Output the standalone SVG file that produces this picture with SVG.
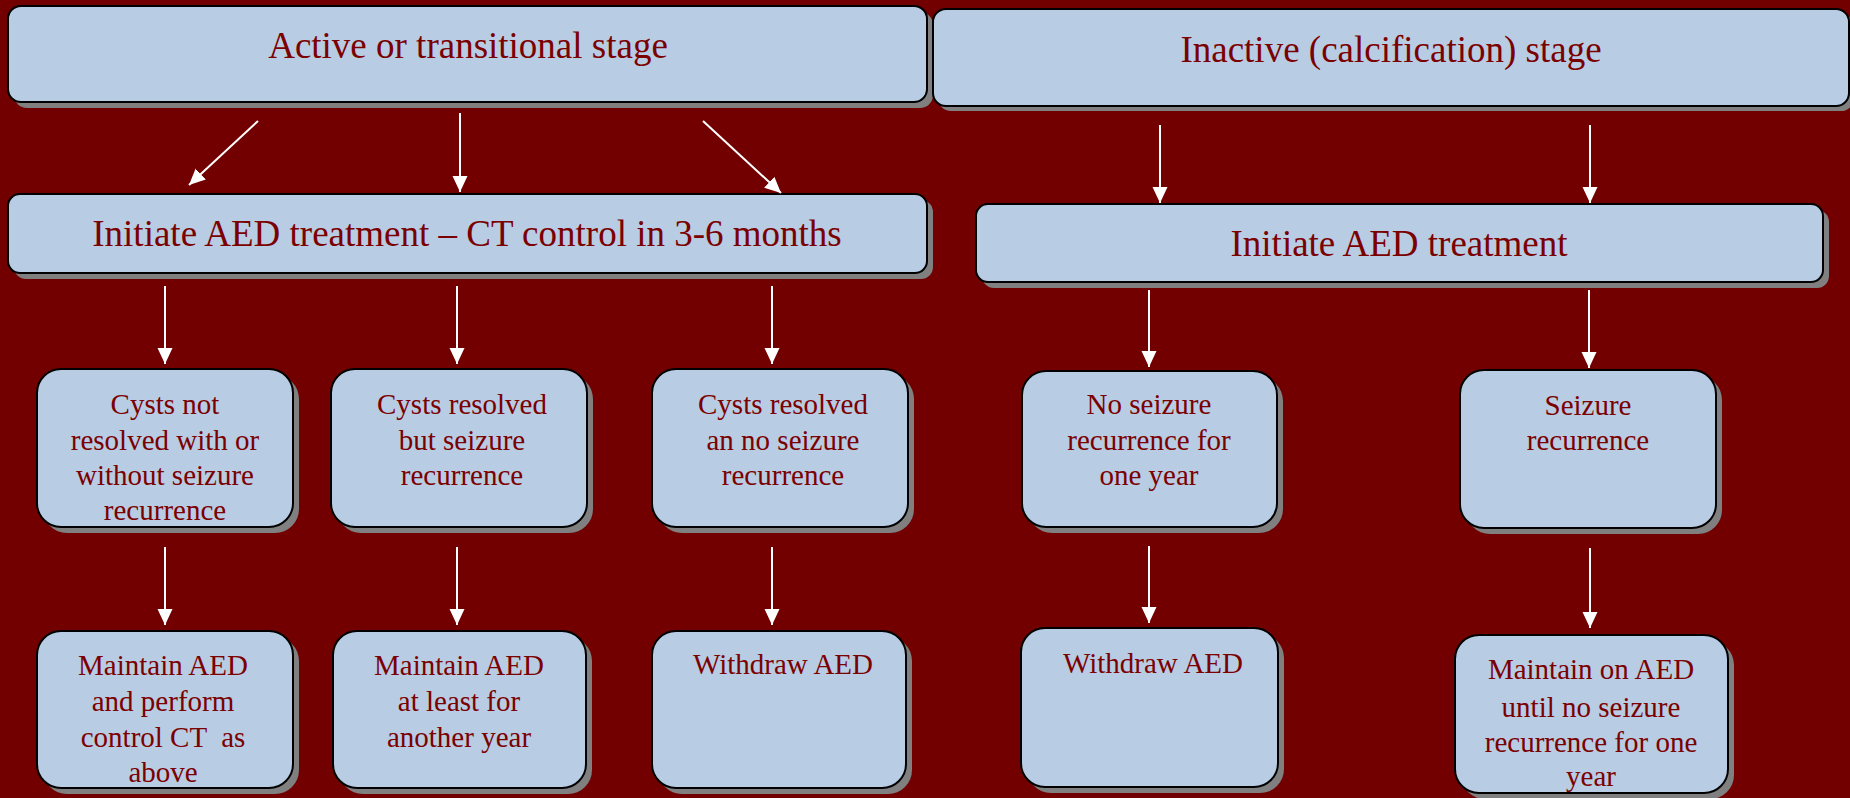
<svg xmlns="http://www.w3.org/2000/svg" width="1850" height="798" viewBox="0 0 1850 798">
  <style>
    .shadow { fill: #808080; }
    .box { fill: #b8cce4; stroke: #000; stroke-width: 2; }
    .label { font-family: "Liberation Serif", "Times New Roman", serif; fill: #7b0000; text-anchor: middle; }
    .big { font-size: 37px; }
    .small { font-size: 29px; }
    .conn { stroke: #fff; stroke-width: 2; fill: none; marker-end: url(#head); }
  </style>
  <defs>
    <marker id="head" markerUnits="userSpaceOnUse" markerWidth="18" markerHeight="16" refX="16" refY="7.5" orient="auto">
      <path d="M0,0 L16,7.5 L0,15 Z" fill="#fff"/>
    </marker>
  </defs>

  <!-- background -->
  <rect x="0" y="0" width="1850" height="798" fill="#720000"/>

  <!-- top-level stages -->
  <g id="active-stage">
    <rect class="shadow" x="14" y="12" width="919" height="96" rx="13"/>
    <rect class="box" x="8" y="6" width="919" height="96" rx="13"/>
    <text class="label big" x="468" y="58">Active or transitional stage</text>
  </g>
  <g id="inactive-stage">
    <rect class="shadow" x="938" y="14" width="916" height="97" rx="13"/>
    <rect class="box" x="933" y="9" width="916" height="97" rx="13"/>
    <text class="label big" x="1391" y="62">Inactive (calcification) stage</text>
  </g>

  <!-- treatment initiation -->
  <g id="initiate-ct">
    <rect class="shadow" x="14" y="200" width="919" height="79" rx="12"/>
    <rect class="box" x="8" y="194" width="919" height="79" rx="12"/>
    <text class="label big" x="467" y="246">Initiate AED treatment – CT control in 3-6 months</text>
  </g>
  <g id="initiate-aed">
    <rect class="shadow" x="982" y="210" width="847" height="78" rx="12"/>
    <rect class="box" x="976" y="204" width="847" height="78" rx="12"/>
    <text class="label big" x="1399" y="256">Initiate AED treatment</text>
  </g>

  <!-- outcomes -->
  <g id="cysts-not-resolved">
    <rect class="shadow" x="43" y="375" width="256" height="158" rx="24"/>
    <rect class="box" x="37" y="369" width="256" height="158" rx="24"/>
    <text class="label small" x="165" y="414">Cysts not</text>
    <text class="label small" x="165" y="450">resolved with or</text>
    <text class="label small" x="165" y="485">without seizure</text>
    <text class="label small" x="165" y="520">recurrence</text>
  </g>
  <g id="resolved-recurrence">
    <rect class="shadow" x="337" y="375" width="256" height="158" rx="24"/>
    <rect class="box" x="331" y="369" width="256" height="158" rx="24"/>
    <text class="label small" x="462" y="414">Cysts resolved</text>
    <text class="label small" x="462" y="450">but seizure</text>
    <text class="label small" x="462" y="485">recurrence</text>
  </g>
  <g id="resolved-no-recurrence">
    <rect class="shadow" x="658" y="375" width="256" height="158" rx="24"/>
    <rect class="box" x="652" y="369" width="256" height="158" rx="24"/>
    <text class="label small" x="783" y="414">Cysts resolved</text>
    <text class="label small" x="783" y="450">an no seizure</text>
    <text class="label small" x="783" y="485">recurrence</text>
  </g>
  <g id="no-seizure-year">
    <rect class="shadow" x="1028" y="377" width="255" height="156" rx="24"/>
    <rect class="box" x="1022" y="371" width="255" height="156" rx="24"/>
    <text class="label small" x="1149" y="414">No seizure</text>
    <text class="label small" x="1149" y="450">recurrence for</text>
    <text class="label small" x="1149" y="485">one year</text>
  </g>
  <g id="seizure-recurrence">
    <rect class="shadow" x="1466" y="376" width="256" height="158" rx="24"/>
    <rect class="box" x="1460" y="370" width="256" height="158" rx="24"/>
    <text class="label small" x="1588" y="415">Seizure</text>
    <text class="label small" x="1588" y="450">recurrence</text>
  </g>

  <!-- actions -->
  <g id="maintain-control-ct">
    <rect class="shadow" x="43" y="637" width="256" height="157" rx="24"/>
    <rect class="box" x="37" y="631" width="256" height="157" rx="24"/>
    <text class="label small" x="163" y="675">Maintain AED</text>
    <text class="label small" x="163" y="711">and perform</text>
    <text class="label small" x="163" y="747" xml:space="preserve">control CT  as</text>
    <text class="label small" x="163" y="782">above</text>
  </g>
  <g id="maintain-another-year">
    <rect class="shadow" x="339" y="637" width="253" height="157" rx="24"/>
    <rect class="box" x="333" y="631" width="253" height="157" rx="24"/>
    <text class="label small" x="459" y="675">Maintain AED</text>
    <text class="label small" x="459" y="711">at least for</text>
    <text class="label small" x="459" y="747">another year</text>
  </g>
  <g id="withdraw-active">
    <rect class="shadow" x="658" y="637" width="254" height="157" rx="24"/>
    <rect class="box" x="652" y="631" width="254" height="157" rx="24"/>
    <text class="label small" x="783" y="674">Withdraw AED</text>
  </g>
  <g id="withdraw-inactive">
    <rect class="shadow" x="1027" y="634" width="257" height="159" rx="24"/>
    <rect class="box" x="1021" y="628" width="257" height="159" rx="24"/>
    <text class="label small" x="1153" y="673">Withdraw AED</text>
  </g>
  <g id="maintain-until-free">
    <rect class="shadow" x="1461" y="641" width="273" height="158" rx="24"/>
    <rect class="box" x="1455" y="635" width="273" height="158" rx="24"/>
    <text class="label small" x="1591" y="679">Maintain on AED</text>
    <text class="label small" x="1591" y="717">until no seizure</text>
    <text class="label small" x="1591" y="752">recurrence for one</text>
    <text class="label small" x="1591" y="786">year</text>
  </g>

  <!-- connectors -->
  <g id="connectors">
    <line class="conn" x1="258" y1="121" x2="189" y2="185"/>
    <line class="conn" x1="460" y1="113" x2="460" y2="192"/>
    <line class="conn" x1="703" y1="121" x2="781" y2="193"/>
    <line class="conn" x1="1160" y1="125" x2="1160" y2="203"/>
    <line class="conn" x1="1590" y1="125" x2="1590" y2="203"/>

    <line class="conn" x1="165" y1="286" x2="165" y2="364"/>
    <line class="conn" x1="457" y1="286" x2="457" y2="364"/>
    <line class="conn" x1="772" y1="286" x2="772" y2="364"/>
    <line class="conn" x1="1149" y1="290" x2="1149" y2="367"/>
    <line class="conn" x1="1589" y1="290" x2="1589" y2="368"/>

    <line class="conn" x1="165" y1="547" x2="165" y2="625"/>
    <line class="conn" x1="457" y1="547" x2="457" y2="625"/>
    <line class="conn" x1="772" y1="547" x2="772" y2="625"/>
    <line class="conn" x1="1149" y1="546" x2="1149" y2="623"/>
    <line class="conn" x1="1590" y1="548" x2="1590" y2="628"/>
  </g>
</svg>
